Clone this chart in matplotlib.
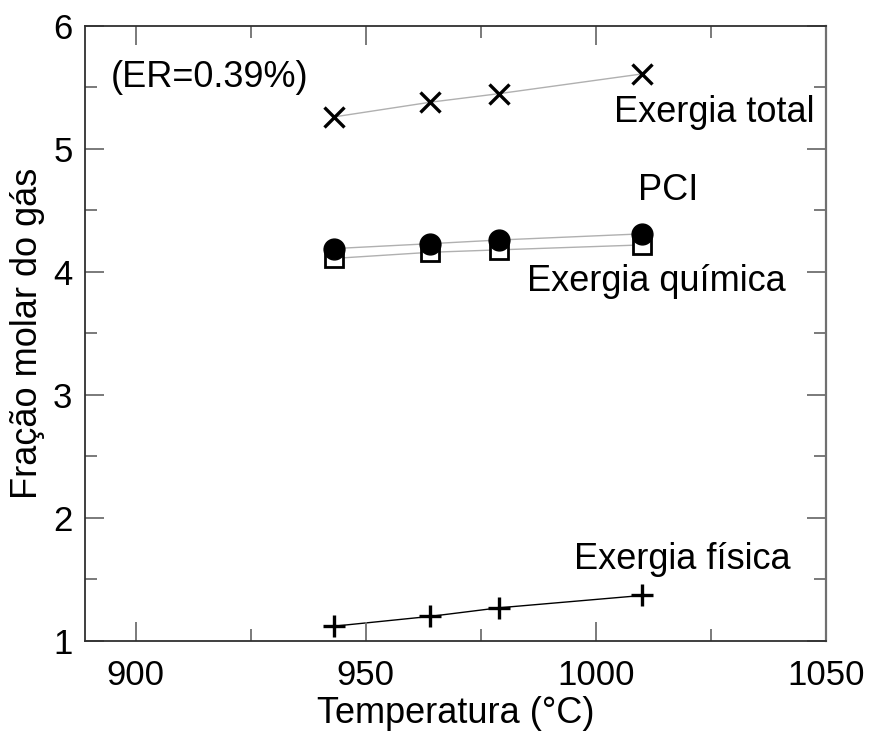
import numpy as np
import matplotlib.pyplot as plt
from matplotlib.ticker import MultipleLocator

plt.rcParams['font.family'] = ['Liberation Sans', 'DejaVu Sans']

# Temperatures of the four runs (°C)
temp = [943, 964, 979, 1010]

# Values per series
exergia_total = [5.26, 5.38, 5.45, 5.61]
pci = [4.19, 4.23, 4.26, 4.31]
exergia_quimica = [4.11, 4.16, 4.18, 4.22]
exergia_fisica = [1.12, 1.20, 1.27, 1.37]

fig = plt.figure(figsize=(8.69, 7.40), dpi=100)
ax = fig.add_axes([0.0978, 0.1338, 0.8527, 0.8311])

ax.plot(temp, exergia_total, color='#b0b0b0', lw=1.0, zorder=1)
ax.plot(temp, exergia_total, ls='none', marker='x', ms=14, mew=2.4, color='black', zorder=3)

ax.plot(temp, exergia_quimica, color='#b0b0b0', lw=1.0, zorder=1)
ax.plot(temp, pci, color='#b0b0b0', lw=1.0, zorder=1)
ax.plot(temp, exergia_quimica, ls='none', marker='s', ms=13, mew=2.0,
        mfc='white', mec='black', zorder=3)
ax.plot(temp, pci, ls='none', marker='o', ms=15, color='black', zorder=4)

ax.plot(temp, exergia_fisica, color='black', lw=1.0, zorder=1)
ax.plot(temp, exergia_fisica, ls='none', marker='+', ms=16, mew=2.4, color='black', zorder=3)

ax.set_xlim(889, 1050)
ax.set_ylim(1, 6)
ax.xaxis.set_major_locator(MultipleLocator(50))
ax.xaxis.set_minor_locator(MultipleLocator(25))
ax.yaxis.set_major_locator(MultipleLocator(1))
ax.yaxis.set_minor_locator(MultipleLocator(0.5))

ax.tick_params(which='both', direction='in', top=True, right=True, color='#707070', width=1.3)
ax.tick_params(which='major', length=14, labelsize=25, pad=9)
ax.tick_params(which='minor', length=8.6)
ax.tick_params(axis='x', which='major', pad=13)
for side in ['left', 'bottom', 'top']:
    ax.spines[side].set_color('#303030')
    ax.spines[side].set_linewidth(1.3)
ax.spines['right'].set_color('#707070')
ax.spines['right'].set_linewidth(1.6)

ax.set_xlabel('Temperatura (°C)', fontsize=26)
ax.set_ylabel('Fração molar do gás', fontsize=26)
ax.xaxis.set_label_coords(0.5, -0.090)
ax.yaxis.set_label_coords(-0.054, 0.5)

# series labels
fs = 26
ax.text(0.035, 0.917, '(ER=0.39%)', transform=ax.transAxes, fontsize=fs, ha='left', va='center')
ax.text(0.849, 0.860, 'Exergia total', transform=ax.transAxes, fontsize=fs, ha='center', va='center')
ax.text(0.787, 0.733, 'PCI', transform=ax.transAxes, fontsize=fs, ha='center', va='center')
ax.text(0.771, 0.585, 'Exergia química', transform=ax.transAxes, fontsize=fs, ha='center', va='center')
ax.text(0.806, 0.132, 'Exergia física', transform=ax.transAxes, fontsize=fs, ha='center', va='center')

fig.savefig('out.png', dpi=100)
